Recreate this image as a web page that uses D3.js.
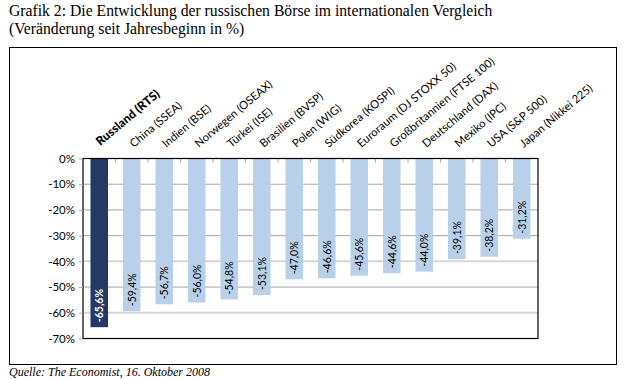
<!DOCTYPE html>
<html>
<head>
<meta charset="utf-8">
<script src="https://cdn.jsdelivr.net/npm/d3@7/dist/d3.min.js"></script>
<style>
  html, body { margin: 0; padding: 0; background: #fff; }
  svg { display: block; }
</style>
</head>
<body>
<svg id="chart" width="625" height="379"></svg>
<script>
const categories = ["Russland (RTS)", "China (SSEA)", "Indien (BSE)", "Norwegen (OSEAX)", "Türkei (ISE)",
  "Brasilien (BVSP)", "Polen (WIG)", "Südkorea (KOSPI)", "Euroraum (DJ STOXX 50)", "Großbritannien (FTSE 100)",
  "Deutschland (DAX)", "Mexiko (IPC)", "USA (S&P 500)", "Japan (Nikkei 225)"];
const values = [-65.6, -59.4, -56.7, -56.0, -54.8, -53.1, -47.0, -46.6, -45.6, -44.6, -44.0, -39.1, -38.2, -31.2];
const yTicks = [0, -10, -20, -30, -40, -50, -60, -70];
const highlight = "Russland (RTS)";

const svg = d3.select("#chart");
const plot = {left: 83, right: 538, top: 158.5, bottom: 338.5};

const serif = "'Liberation Serif', 'DejaVu Serif', serif";
const sans = "Lato, 'Open Sans', sans-serif";
svg.append("text").attr("x", 9).attr("y", 16).attr("font-family", serif).attr("font-size", 15.7)
  .attr("fill", "#000").text("Grafik 2: Die Entwicklung der russischen Börse im internationalen Vergleich");
svg.append("text").attr("x", 9).attr("y", 34).attr("font-family", serif).attr("font-size", 15.7)
  .attr("fill", "#000").text("(Veränderung seit Jahresbeginn in %)");

svg.append("rect").attr("x", 9.5).attr("y", 47.5).attr("width", 607).attr("height", 317)
  .attr("fill", "none").attr("stroke", "#000").attr("stroke-width", 1);

svg.append("text").attr("x", 9).attr("y", 376).attr("font-family", serif).attr("font-style", "italic")
  .attr("font-size", 12).attr("fill", "#000").text("Quelle: The Economist, 16. Oktober 2008");

const x = d3.scaleBand().domain(categories).range([plot.left, plot.right]).paddingInner(0.46).paddingOuter(0.23);
const y = d3.scaleLinear().domain([0, -70]).range([plot.top, plot.bottom]);

const g = svg.append("g");
g.selectAll("line.grid").data(yTicks.filter(t => t !== 0 && t !== -70)).join("line")
  .attr("x1", plot.left).attr("x2", plot.right)
  .attr("y1", d => y(d)).attr("y2", d => y(d))
  .attr("stroke", d => (d === -40 || d === -60) ? "#d6d6d6" : "#a6a6a6")
  .attr("stroke-width", d => (d === -40 || d === -60) ? 2 : 1);

const bounds = categories.slice(1).map(c => x(c) - x.step() * x.paddingInner() / 2);
g.selectAll("line.btick").data(bounds).join("line")
  .attr("x1", d => d).attr("x2", d => d).attr("y1", plot.top).attr("y2", plot.top + 4)
  .attr("stroke", "#a6a6a6").attr("stroke-width", 1);

g.selectAll("rect.bar").data(categories).join("rect")
  .attr("x", d => x(d)).attr("width", x.bandwidth())
  .attr("y", y(0)).attr("height", (d, i) => y(values[i]) - y(0))
  .attr("fill", d => d === highlight ? "#243a63" : "#b9d0ea");

svg.append("rect").attr("x", plot.left).attr("y", plot.top).attr("width", plot.right - plot.left)
  .attr("height", plot.bottom - plot.top).attr("fill", "none").attr("stroke", "#000").attr("stroke-width", 1.2);

const yAxis = d3.axisLeft(y).tickValues(yTicks).tickSize(4).tickPadding(4)
  .tickFormat(d => d + "%");
const ya = svg.append("g").attr("transform", `translate(${plot.left},0)`).call(yAxis);
ya.select(".domain").remove();
ya.selectAll(".tick line").attr("stroke", "#a6a6a6");
ya.selectAll(".tick text").attr("font-family", sans).attr("font-size", 11.5).attr("fill", "#000");

const fmt = d3.format(".1f");
svg.append("g").selectAll("text").data(categories).join("text")
  .attr("transform", d => `translate(${x(d) + x.bandwidth() / 2 + (d === highlight ? 1 : 2)},${d === highlight ? 146 : 148}) rotate(-40)`)
  .attr("font-family", sans).attr("font-size", d => d === highlight ? 12 : 11.3)
  .attr("font-weight", d => d === highlight ? 900 : 400)
  .attr("fill", "#000")
  .text(d => d);

svg.append("g").selectAll("text").data(categories).join("text")
  .attr("transform", (d, i) => `translate(${x(d) + x.bandwidth() / 2 + 4},${y(values[i]) - 5}) rotate(-90)`)
  .attr("font-family", sans).attr("font-size", 10.5)
  .attr("font-weight", d => d === highlight ? 700 : 400)
  .attr("fill", d => d === highlight ? "#fff" : "#000")
  .text((d, i) => fmt(values[i]).replace("\u2212", "-").replace(".", ",") + "%");
</script>
</body>
</html>
